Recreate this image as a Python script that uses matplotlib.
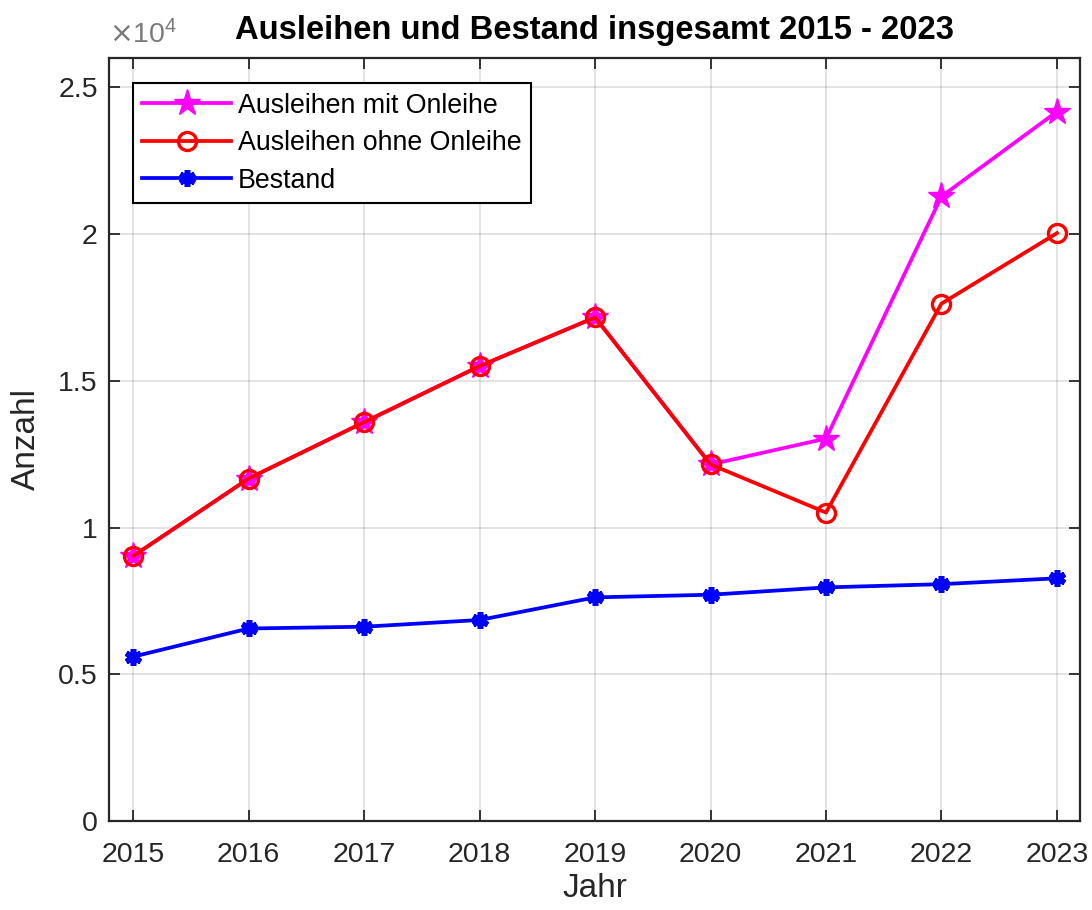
import numpy as np
import matplotlib
matplotlib.use('Agg')
import matplotlib.pyplot as plt

matplotlib.rc('font', family=['Liberation Sans', 'DejaVu Sans'])

years = [2015, 2016, 2017, 2018, 2019, 2020, 2021, 2022, 2023]
mit_onleihe = [9030, 11670, 13590, 15500, 17160, 12150, 13030, 21280, 24170]
ohne_onleihe = [9030, 11670, 13590, 15500, 17160, 12150, 10510, 17630, 20030]
bestand = [5600, 6560, 6620, 6850, 7620, 7710, 7960, 8070, 8270]

ytick_vals = [0, 5000, 10000, 15000, 20000, 25000]
ytick_labels = ['0', '0.5', '1', '1.5', '2', '2.5']

dark = '#262626'

fig = plt.figure(figsize=(10.92, 9.10), dpi=100)
ax = fig.add_axes([0.0998, 0.0978, 0.8892, 0.8385])

ax.plot(years, mit_onleihe, color='#ff00ff', lw=2.7, marker='*', markersize=20,
        label='Ausleihen mit Onleihe')
ax.plot(years, ohne_onleihe, color='#ff0000', lw=2.7, marker='o', markersize=13,
        markerfacecolor='none', markeredgewidth=2.4, label='Ausleihen ohne Onleihe')
ax.plot(years, bestand, color='#0000ff', lw=2.7, marker=(6, 2, 0), markersize=12,
        markeredgewidth=4, label='Bestand')

ax.set_xlim(2014.79, 2023.2)
ax.set_ylim(0, 26000)
ax.set_xticks(years)
ax.set_xticklabels([str(y) for y in years])
ax.set_yticks(ytick_vals)
ax.set_yticklabels(ytick_labels)

ax.tick_params(direction='in', length=8, width=1.3, top=True, right=True,
               labelsize=20.5, colors=dark, pad=8)
ax.tick_params(axis='x', pad=15)
for sp in ax.spines.values():
    sp.set_color(dark)
    sp.set_linewidth(1.6)
ax.grid(True, color='#262626', alpha=0.15, lw=1.2)
ax.set_axisbelow(True)

ax.set_title('Ausleihen und Bestand insgesamt 2015 - 2023', fontsize=23.6,
             fontweight='bold', pad=14)
ax.set_xlabel('Jahr', fontsize=24, color=dark, labelpad=4)
ax.set_ylabel('Anzahl', fontsize=24, color=dark, labelpad=12)
ax.text(0.0, 1.012, r'$\times\mathregular{10^{4}}$', transform=ax.transAxes,
        fontsize=20.5, color='#7a7a7a', ha='left', va='bottom')

leg = ax.legend(loc='upper left', bbox_to_anchor=(0.0247, 0.967), borderaxespad=0,
                fontsize=19.3, frameon=True, fancybox=False, handlelength=3.3,
                labelspacing=0.43, borderpad=0.35, handletextpad=0.25)
leg.get_frame().set_edgecolor('k')
leg.get_frame().set_linewidth(1.5)
leg.get_frame().set_alpha(1)

fig.savefig('out.png', dpi=100)
